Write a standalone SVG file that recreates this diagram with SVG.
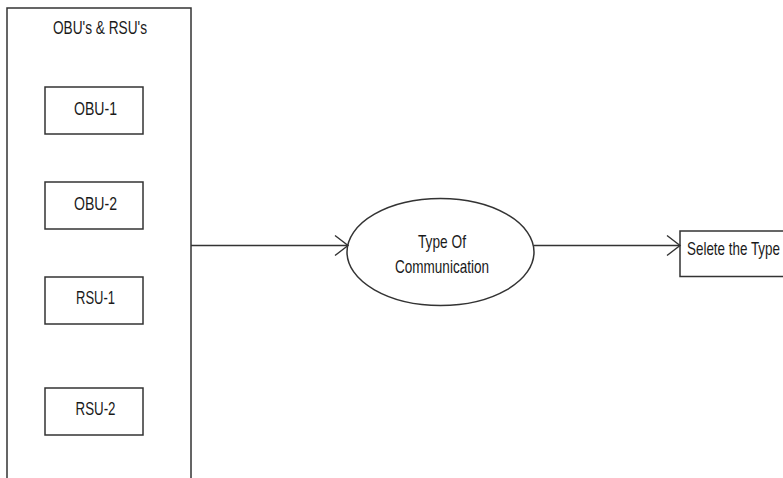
<svg xmlns="http://www.w3.org/2000/svg" width="783" height="478" viewBox="0 0 783 478">
<style>
.box{fill:#fff;stroke:#333;stroke-width:1.5}
.lbl{font-family:"Liberation Sans",Arial,sans-serif;font-size:19px;fill:#1a1a1a}
.edge{stroke:#333;stroke-width:1.3;fill:none}
</style>
<defs>
<marker id="arr" markerUnits="userSpaceOnUse" markerWidth="16" markerHeight="24" viewBox="0 0 16 24" refX="14" refY="12" orient="auto">
<path d="M1,2 L14,12 L1,22" fill="none" stroke="#333" stroke-width="1.4"/>
</marker>
</defs>
<rect width="783" height="478" fill="#fff"/>
<g id="container">
<rect class="box" x="7" y="8" width="184" height="485"/>
<text class="lbl" x="100" y="34" text-anchor="middle" textLength="94" lengthAdjust="spacingAndGlyphs">OBU's &amp; RSU's</text>
</g>
<g id="obu1">
<rect class="box" x="45" y="87" width="98" height="47"/>
<text class="lbl" x="95.5" y="115" text-anchor="middle" textLength="43" lengthAdjust="spacingAndGlyphs">OBU-1</text>
</g>
<g id="obu2">
<rect class="box" x="45" y="182" width="98" height="47"/>
<text class="lbl" x="95.5" y="210" text-anchor="middle" textLength="43" lengthAdjust="spacingAndGlyphs">OBU-2</text>
</g>
<g id="rsu1">
<rect class="box" x="45" y="277" width="98" height="47"/>
<text class="lbl" x="95.5" y="304" text-anchor="middle" textLength="39" lengthAdjust="spacingAndGlyphs">RSU-1</text>
</g>
<g id="rsu2">
<rect class="box" x="45" y="388" width="98" height="47"/>
<text class="lbl" x="95.5" y="415" text-anchor="middle" textLength="40" lengthAdjust="spacingAndGlyphs">RSU-2</text>
</g>
<g id="comm">
<ellipse class="box" cx="440.5" cy="252" rx="93.5" ry="53.5"/>
<text class="lbl" x="442" y="248" text-anchor="middle" textLength="48" lengthAdjust="spacingAndGlyphs">Type Of</text>
<text class="lbl" x="442" y="273" text-anchor="middle" textLength="94" lengthAdjust="spacingAndGlyphs">Communication</text>
</g>
<g id="select">
<rect class="box" x="680" y="231" width="120" height="45.5"/>
<text class="lbl" x="687" y="255" textLength="93" lengthAdjust="spacingAndGlyphs">Selete the Type</text>
</g>
<g id="connectors">
<line class="edge" x1="191" y1="245.5" x2="348" y2="245.5" marker-end="url(#arr)"/>
<line class="edge" x1="534" y1="245.5" x2="680" y2="245.5" marker-end="url(#arr)"/>
</g>
</svg>
